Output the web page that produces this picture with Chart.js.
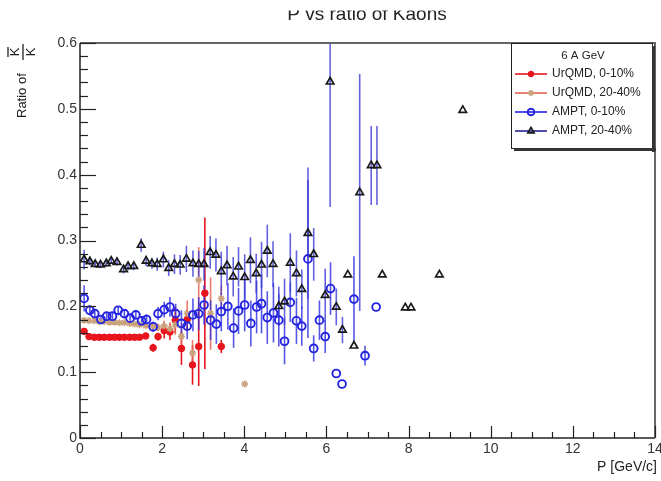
<!DOCTYPE html>
<html><head><meta charset="utf-8">
<script src="https://cdn.jsdelivr.net/npm/chart.js@4/dist/chart.umd.min.js"></script>
<style>html,body{margin:0;padding:0;background:#fff}canvas{display:block}</style>
</head><body>
<canvas id="c" width="661" height="481"></canvas>
<script>
// ---- data ----
const urqmd010P = [0.10,0.22,0.35,0.47,0.59,0.72,0.84,0.96,1.08,1.21,1.33,1.45,1.60,1.78,1.90,2.05,2.19,2.32,2.47,2.61,2.74,2.89,3.04,3.44];
const urqmd010R = [0.162,0.154,0.153,0.153,0.153,0.153,0.153,0.153,0.153,0.153,0.153,0.153,0.155,0.137,0.154,0.163,0.161,0.179,0.136,0.180,0.111,0.139,0.220,0.139];
const urqmd010E = [0.003,0.002,0.002,0.002,0.002,0.002,0.002,0.002,0.002,0.002,0.002,0.003,0.004,0.006,0.006,0.012,0.012,0.02,0.025,0.015,0.03,0.06,0.115,0.01];

const urqmd2040P = [0.10,0.22,0.35,0.47,0.59,0.72,0.84,0.96,1.08,1.21,1.33,1.45,1.60,1.78,1.90,2.05,2.19,2.32,2.47,2.61,2.74,2.89,3.18,3.44,4.01];
const urqmd2040R = [0.179,0.178,0.178,0.177,0.177,0.176,0.176,0.175,0.175,0.174,0.173,0.172,0.171,0.170,0.168,0.170,0.166,0.172,0.154,0.189,0.129,0.240,0.189,0.212,0.082];
const urqmd2040E = [0.002,0.002,0.002,0.002,0.002,0.002,0.002,0.002,0.002,0.002,0.002,0.002,0.004,0.005,0.006,0.008,0.01,0.015,0.02,0.02,0.02,0.05,0.055,0.02,0];

const ampt010P = [0.10,0.24,0.36,0.51,0.65,0.79,0.93,1.08,1.22,1.36,1.50,1.62,1.78,1.90,2.05,2.19,2.33,2.47,2.61,2.75,2.89,3.02,3.18,3.32,3.44,3.60,3.74,3.86,4.01,4.16,4.30,4.42,4.56,4.71,4.84,4.98,5.12,5.27,5.40,5.55,5.69,5.83,5.97,6.10,6.24,6.38,6.67,6.94,7.21];
const ampt010R = [0.212,0.194,0.189,0.180,0.185,0.185,0.194,0.189,0.182,0.187,0.178,0.180,0.169,0.189,0.195,0.199,0.189,0.174,0.170,0.187,0.189,0.202,0.179,0.173,0.192,0.200,0.167,0.193,0.202,0.174,0.199,0.204,0.183,0.190,0.179,0.147,0.206,0.178,0.170,0.272,0.136,0.179,0.154,0.227,0.098,0.082,0.211,0.125,0.199];
const ampt010E = [0.02,0.008,0.006,0.005,0.005,0.005,0.006,0.006,0.006,0.006,0.007,
  0.008,0.008,0.01,0.012,0.015,0.015,0.02,0.02,0.025,0.025,
  0.03,0.03,0.03,0.03,0.035,0.03,0.035,0.04,0.035,0.04,0.045,0.04,0.045,0.04,0.035,
  0.03,0.035,0.03,0.12,0.02,0.03,0.025,0.04,0,0,0.065,0.015,0];

const ampt2040P = [0.10,0.24,0.37,0.50,0.64,0.76,0.90,1.06,1.17,1.31,1.49,1.61,1.75,1.88,2.03,2.16,2.30,2.44,2.59,2.75,2.89,3.02,3.17,3.31,3.44,3.58,3.73,3.86,4.01,4.15,4.29,4.42,4.56,4.70,4.84,4.98,5.12,5.27,5.40,5.55,5.69,5.97,6.09,6.24,6.39,6.52,6.67,6.81,7.09,7.23,7.36,7.92,8.06,8.75,9.32];
const ampt2040R = [0.271,0.268,0.264,0.263,0.265,0.269,0.267,0.256,0.261,0.261,0.293,0.269,0.265,0.264,0.271,0.258,0.264,0.263,0.272,0.265,0.264,0.264,0.282,0.278,0.253,0.262,0.245,0.260,0.244,0.270,0.250,0.263,0.284,0.264,0.200,0.207,0.266,0.250,0.226,0.311,0.279,0.217,0.541,0.199,0.164,0.248,0.140,0.373,0.414,0.414,0.248,0.198,0.198,0.248,0.498];
const ampt2040E = [0.015,0.006,0.005,0.005,0.005,0.005,0.005,0.006,0.006,0.006,
  0.01,0.008,0.008,0.01,0.012,0.012,0.015,0.015,0.02,0.02,0.02,
  0.025,0.025,0.025,0.03,0.03,0.03,0.03,0.035,0.035,0.03,0.035,0.04,0.035,
  0.03,0.035,0.045,0.035,0.03,0.1,0.04,0.04,0.19,0.028,0.02,0,0,0.18,0.06,0.06,0,0,0,0,0];

const xTickLabels = ['0','2','4','6','8','10','12','14'];
const yTickLabels = ['0','0.1','0.2','0.3','0.4','0.5','0.6'];
const seriesNames = ['UrQMD, 0-10%','UrQMD, 20-40%','AMPT, 0-10%','AMPT, 20-40%'];
const legendHeader = '6 A GeV';
const chartTitle = 'P vs ratio of Kaons';
const xTitle = 'P [GeV/c]';

// ---- build ----
const FONT = "'Liberation Sans', Arial, Helvetica, sans-serif";
const pts = (P,R) => P.map((p,i)=>({x:p,y:R[i]}));

const datasets = [
  {label:seriesNames[0], data:pts(urqmd010P,urqmd010R), errors:urqmd010E, errColor:'#e8141c', legLine:'#e8141c',
   pointStyle:'circle', pointRadius:3.3, backgroundColor:'#e8141c', borderColor:'#e8141c', borderWidth:1, order:4},
  {label:seriesNames[1], data:pts(urqmd2040P,urqmd2040R), errors:urqmd2040E, errColor:'rgba(232,100,80,0.85)', legLine:'#e0664e',
   pointStyle:'star', pointRadius:3.5, backgroundColor:'#c9a27c', borderColor:'#c9a27c', borderWidth:1.5, order:3},
  {label:seriesNames[2], data:pts(ampt010P,ampt010R), errors:ampt010E, errColor:'rgba(45,45,225,0.8)', legLine:'#2323e0',
   pointStyle:'circle', pointRadius:3.9, backgroundColor:'rgba(255,255,255,0)', borderColor:'#2424e0', borderWidth:1.9, order:2},
  {label:seriesNames[3], data:pts(ampt2040P,ampt2040R), errors:ampt2040E, errColor:'rgba(60,60,215,0.8)', legLine:'#23238f',
   pointStyle:'triangle', pointRadius:4.3, backgroundColor:'rgba(255,255,255,0)', borderColor:'#1a1a1a', borderWidth:1.7, order:1}
];

const errorBars = {
  id:'errorBars',
  beforeDatasetsDraw(chart){
    const {ctx, chartArea:a, scales:{x,y}} = chart;
    ctx.save();
    ctx.beginPath(); ctx.rect(a.left,a.top,a.right-a.left,a.bottom-a.top); ctx.clip();
    chart.data.datasets.forEach(ds=>{
      ctx.strokeStyle = ds.errColor; ctx.lineWidth = 1.6;
      ds.data.forEach((p,i)=>{
        const e = ds.errors[i]; if(!e) return;
        const px = x.getPixelForValue(p.x);
        ctx.beginPath();
        ctx.moveTo(px, y.getPixelForValue(p.y-e));
        ctx.lineTo(px, y.getPixelForValue(p.y+e));
        ctx.stroke();
      });
    });
    ctx.restore();
  }
};

const frameAndDecor = {
  id:'frameAndDecor',
  afterDraw(chart){
    const {ctx, chartArea:a, scales:{x,y}} = chart;
    ctx.save();
    // frame
    ctx.strokeStyle = '#222'; ctx.lineWidth = 1.5;
    ctx.beginPath();
    ctx.moveTo(a.left, a.top); ctx.lineTo(a.left, a.bottom); ctx.lineTo(a.right, a.bottom);
    ctx.stroke();
    ctx.strokeStyle = '#666'; ctx.lineWidth = 2;
    ctx.beginPath();
    ctx.moveTo(a.left, a.top); ctx.lineTo(a.right, a.top); ctx.lineTo(a.right, a.bottom);
    ctx.stroke();
    // x ticks (inside)
    ctx.strokeStyle = '#222'; ctx.lineWidth = 1.2;
    for(let k=0;k<=28;k++){
      const v = k*0.5, px = Math.round(x.getPixelForValue(v))+0.5;
      const len = (k%4===0)?12:6;
      ctx.beginPath(); ctx.moveTo(px,a.bottom); ctx.lineTo(px,a.bottom-len); ctx.stroke();
    }
    // y ticks (inside)
    for(let k=0;k<=30;k++){
      const v = k*0.02, py = Math.round(y.getPixelForValue(v))+0.5;
      const len = (k%5===0)?16:8;
      ctx.beginPath(); ctx.moveTo(a.left,py); ctx.lineTo(a.left+len,py); ctx.stroke();
    }
    // title (top part cut off as in reference)
    ctx.save();
    ctx.beginPath(); ctx.rect(0,10.5,661,20); ctx.clip();
    ctx.fillStyle = '#222'; ctx.font = '19px '+FONT; ctx.textAlign='center'; ctx.textBaseline='alphabetic';
    ctx.fillText(chartTitle, 367, 20);
    ctx.restore();
    // x title
    ctx.fillStyle = '#222'; ctx.font = '14px '+FONT; ctx.textAlign='right'; ctx.textBaseline='alphabetic';
    ctx.fillText(xTitle, 657, 471);
    // y title
    ctx.save();
    ctx.translate(22, 118); ctx.rotate(-Math.PI/2);
    ctx.font = '13px '+FONT; ctx.textAlign='left'; ctx.textBaseline='middle';
    ctx.fillText('Ratio of', 0, 0);
    ctx.font = '13px '+FONT; ctx.textAlign='center';
    ctx.fillText('K', 66, -7);
    ctx.fillText('K', 66, 9);
    ctx.lineWidth = 1.3; ctx.strokeStyle = '#222';
    ctx.beginPath(); ctx.moveTo(58,1); ctx.lineTo(74,1); ctx.stroke();
    ctx.beginPath(); ctx.moveTo(61,-14); ctx.lineTo(71,-14); ctx.stroke();
    ctx.restore();
    // legend
    const L=511, T=43, R=653, B=149;
    ctx.fillStyle='#fff'; ctx.fillRect(L,T,R-L,B-T);
    ctx.strokeStyle='#222'; ctx.lineWidth=1;
    ctx.strokeRect(L+0.5,T+0.5,R-L-1,B-T-1);
    ctx.fillStyle='#333';
    ctx.fillRect(R-1,T+3,3,B-T);   // shadow right
    ctx.fillRect(L+3,B-1,R-L,3);   // shadow bottom
    ctx.fillStyle='#222'; ctx.font='11.5px '+FONT; ctx.textAlign='center'; ctx.textBaseline='middle';
    ctx.fillText(legendHeader, 583, 56);
    const rows=[74,93,112,131];
    chart.data.datasets.forEach((ds,i)=>{
      const yy=rows[i];
      ctx.strokeStyle=ds.legLine; ctx.lineWidth=1.6;
      ctx.beginPath(); ctx.moveTo(515,yy); ctx.lineTo(547,yy); ctx.stroke();
      ctx.fillStyle=ds.backgroundColor; ctx.strokeStyle=ds.borderColor; ctx.lineWidth=ds.borderWidth;
      Chart.helpers.drawPoint(ctx,{pointStyle:ds.pointStyle, radius:ds.pointRadius*0.85, borderWidth:ds.borderWidth}, 531, yy);
      ctx.fillStyle='#222'; ctx.font='12px '+FONT; ctx.textAlign='left'; ctx.textBaseline='middle';
      ctx.fillText(ds.label, 552, yy);
    });
    ctx.restore();
  }
};

new Chart(document.getElementById('c').getContext('2d'), {
  type:'scatter',
  data:{datasets},
  options:{
    responsive:false, animation:false, devicePixelRatio:1,
    layout:{padding:{left:0,right:5,top:43,bottom:0}},
    plugins:{legend:{display:false}, tooltip:{enabled:false}, title:{display:false}},
    scales:{
      x:{type:'linear', min:0, max:14,
         afterFit:s=>{s.height=43; s.paddingLeft=0; s.paddingRight=0;},
         grid:{display:false, drawTicks:false}, border:{display:false},
         ticks:{stepSize:2, autoSkip:false, maxRotation:0, padding:3, color:'#333', font:{family:FONT,size:14},
                callback:(v)=>{const i=Math.round(v/2); return xTickLabels[i];}}},
      y:{type:'linear', min:0, max:0.6,
         afterFit:s=>{s.width=80; s.paddingTop=0; s.paddingBottom=0;},
         grid:{display:false, drawTicks:false}, border:{display:false},
         ticks:{stepSize:0.1, autoSkip:false, padding:3, color:'#333', font:{family:FONT,size:14},
                callback:(v)=>{const i=Math.round(v*10); return yTickLabels[i];}}}
    }
  },
  plugins:[errorBars, frameAndDecor]
});
</script>
</body></html>
